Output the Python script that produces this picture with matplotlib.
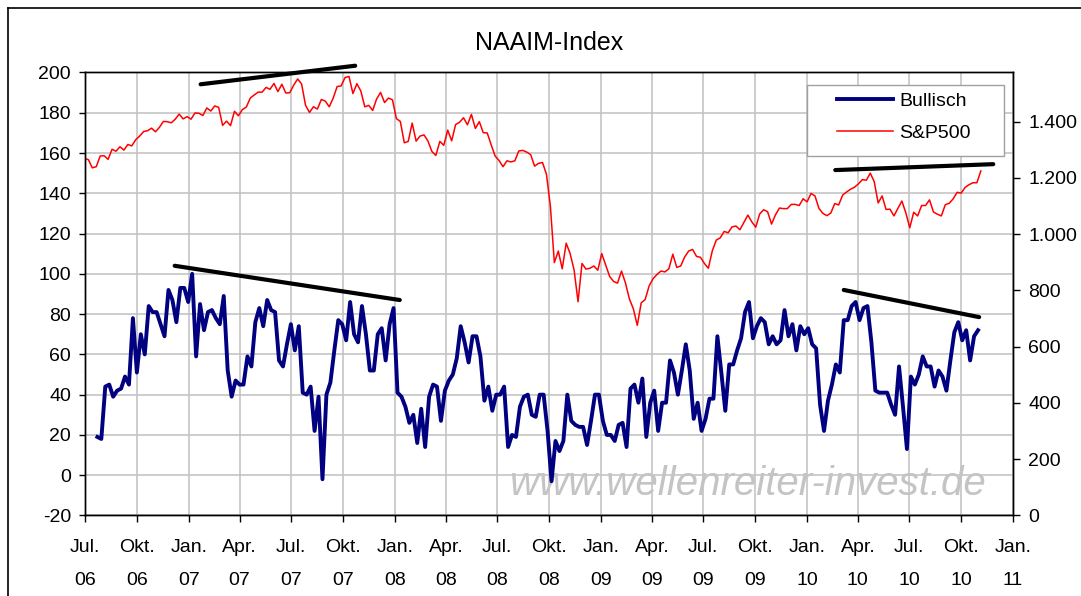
#!/usr/bin/env python3
"""NAAIM exposure index vs. S&P 500, Jul 2006 - Nov 2010."""
import pandas as pd
import matplotlib
matplotlib.use("Agg")
import matplotlib.pyplot as plt
from matplotlib.lines import Line2D
from matplotlib.patches import Rectangle

# NAAIM "Bullisch" weekly readings
NAAIM_START = "2006-07-23"
NAAIM = [
    19, 18, 44, 45, 39, 42, 43, 49, 45, 78,
    51, 70, 60, 84, 81, 81, 75, 69, 92, 87,
    76, 93, 93, 86, 100, 59, 85, 72, 81, 82,
    78, 75, 89, 52, 39, 47, 45, 45, 59, 54,
    76, 83, 74, 87, 82, 81, 57, 54, 65, 75,
    62, 74, 41, 40, 44, 22, 39, -2, 40, 46,
    62, 77, 75, 67, 86, 70, 66, 84, 70, 52,
    52, 70, 73, 57, 75, 83, 41, 39, 34, 26,
    30, 16, 33, 14, 39, 45, 44, 27, 42, 47,
    50, 58, 74, 66, 56, 69, 69, 59, 37, 44,
    32, 40, 40, 44, 14, 20, 19, 34, 39, 40,
    30, 29, 40, 40, 22, -3, 17, 12, 17, 40,
    27, 25, 24, 24, 15, 27, 40, 40, 27, 20,
    20, 17, 25, 26, 14, 43, 45, 36, 48, 19,
    36, 42, 22, 36, 36, 57, 51, 40, 52, 65,
    52, 28, 36, 22, 28, 38, 38, 69, 51, 32,
    55, 55, 62, 68, 81, 86, 68, 74, 78, 76,
    65, 69, 65, 67, 82, 69, 75, 62, 74, 70,
    73, 65, 63, 35, 22, 37, 45, 55, 51, 77,
    77, 84, 86, 77, 83, 84, 66, 42, 41, 41,
    41, 35, 30, 54, 34, 13, 49, 45, 50, 59,
    54, 54, 44, 52, 49, 42, 57, 71, 76, 67,
    72, 57, 69, 72,
]

# S&P 500 weekly closes
SPX_START = "2006-06-30"
SPX_2006 = [1270, 1265, 1236, 1240, 1278, 1279, 1266, 1302, 1295, 1311,
            1299, 1319, 1314, 1336, 1349, 1365, 1368, 1377, 1364, 1380,
            1401, 1400, 1396, 1409, 1427, 1410, 1418]
SPX_2007 = [1409, 1431, 1430, 1422, 1449, 1438, 1456, 1451, 1387, 1402,
            1386, 1437, 1421, 1443, 1452, 1484, 1495, 1505, 1505, 1522,
            1515, 1536, 1507, 1533, 1502, 1503, 1530, 1552, 1534, 1458,
            1433, 1453, 1445, 1479, 1473, 1453, 1484, 1525, 1527, 1557,
            1561, 1500, 1535, 1509, 1453, 1458, 1440, 1481, 1504, 1468,
            1484, 1478]
SPX_2008 = [1411, 1401, 1325, 1330, 1395, 1331, 1349, 1353, 1331, 1294,
            1280, 1330, 1316, 1370, 1332, 1390, 1398, 1414, 1389, 1426,
            1376, 1400, 1361, 1360, 1318, 1278, 1262, 1240, 1261, 1257,
            1261, 1296, 1298, 1292, 1283, 1242, 1252, 1255, 1213, 1099,
            899, 940, 877, 968, 931, 873, 760, 896, 876, 879,
            887, 872]
SPX_2009 = [931, 890, 850, 832, 826, 869, 827, 770, 735, 676,
            756, 768, 816, 842, 857, 869, 866, 877, 929, 882,
            887, 919, 940, 946, 921, 918, 896, 879, 941, 979,
            987, 1010, 1005, 1026, 1029, 1016, 1042, 1068, 1044, 1025,
            1072, 1087, 1080, 1036, 1069, 1093, 1091, 1091, 1106, 1106,
            1102, 1126, 1115]
SPX_2010 = [1145, 1136, 1092, 1074, 1066, 1075, 1109, 1104, 1139, 1150,
            1160, 1167, 1179, 1194, 1192, 1217, 1187, 1111, 1136, 1088,
            1089, 1065, 1092, 1118, 1076, 1023, 1078, 1065, 1102, 1102,
            1122, 1079, 1071, 1065, 1105, 1110, 1126, 1149, 1146, 1166,
            1176, 1183, 1183, 1225]

# hand-drawn trend lines: (start date, start value, end date, end value)
TREND_NAAIM = [("2006-12-07", 104, "2008-01-10", 87),
               ("2010-03-07", 92, "2010-11-02", 78.5)]
TREND_SPX = [("2007-01-22", 1533, "2007-10-23", 1599),
             ("2010-02-20", 1228, "2010-11-27", 1249)]

MONTH_DE = {1: "Jan.", 4: "Apr.", 7: "Jul.", 10: "Okt."}
LEFT_TICKS = list(range(-20, 201, 20))
RIGHT_TICKS = list(range(0, 1401, 200))

plt.rcParams["font.family"] = ["Liberation Sans", "DejaVu Sans"]
plt.rcParams["axes.unicode_minus"] = False

spx = SPX_2006 + SPX_2007 + SPX_2008 + SPX_2009 + SPX_2010
spx_dates = pd.date_range(SPX_START, periods=len(spx), freq="7D")
naaim_dates = pd.date_range(NAAIM_START, periods=len(NAAIM), freq="7D")

fig = plt.figure(figsize=(10.81, 5.96), dpi=100)
ax = fig.add_axes([0.0786, 0.1351, 0.8585, 0.7433])
ax2 = ax.twinx()

ax.plot(naaim_dates, NAAIM, color="#000080", lw=2.8, zorder=3,
        solid_joinstyle="round")
ax2.plot(spx_dates, spx, color="#ff0000", lw=1.1, zorder=2)

for d0, v0, d1, v1 in TREND_NAAIM:
    ax.plot([pd.Timestamp(d0), pd.Timestamp(d1)], [v0, v1], color="black",
            lw=3, solid_capstyle="round", zorder=4, clip_on=False)
for d0, v0, d1, v1 in TREND_SPX:
    ax2.plot([pd.Timestamp(d0), pd.Timestamp(d1)], [v0, v1], color="black",
             lw=3, solid_capstyle="round", zorder=4, clip_on=False)

ax.set_xlim(pd.Timestamp("2006-07-01"), pd.Timestamp("2011-01-01"))
ax.set_ylim(-20, 200)
ax2.set_ylim(0, 1575)

ticks = pd.date_range("2006-07-01", "2011-01-01", freq="QS")
ax.set_xticks(ticks)
ax.set_xticklabels([f"{MONTH_DE[t.month]}\n{t.strftime('%y')}" for t in ticks],
                   linespacing=2.2)
ax.set_yticks(LEFT_TICKS)
ax2.set_yticks(RIGHT_TICKS)
ax2.set_yticklabels([f"{v:,}".replace(",", ".") for v in RIGHT_TICKS])

ax.grid(True, color="#c0c0c0", lw=1.1)
ax.set_axisbelow(True)
for a in (ax, ax2):
    for s in a.spines.values():
        s.set_color("black")
        s.set_linewidth(1.0)
ax.tick_params(axis="both", direction="out", length=4, width=1,
               labelsize=14, color="black")
ax.tick_params(axis="x", length=5, pad=12)
ax.tick_params(axis="y", pad=6)
ax2.tick_params(axis="y", direction="out", length=5, width=1,
                labelsize=14, pad=6)

ax.set_title("NAAIM-Index", fontsize=18, pad=16)

ax.text(0.714, 0.07, "www.wellenreiter-invest.de", transform=ax.transAxes,
        fontsize=29, style="italic", color="#c4c4c4", ha="center",
        va="center", zorder=1)

# legend: white box plus frameless legend entries
ax2.add_patch(Rectangle((0.778, 0.8115), 0.212, 0.1605, transform=ax2.transAxes,
                        facecolor="white", edgecolor="#a0a0a0", lw=1.0,
                        zorder=5))
handles = [Line2D([], [], color="#000080", lw=2.8),
           Line2D([], [], color="#ff0000", lw=1.1)]
leg = ax2.legend(handles, ["Bullisch", "S&P500"], loc="upper left",
                 bbox_to_anchor=(0.8103, 0.955), borderaxespad=0, borderpad=0,
                 fontsize=14, handlelength=2.9, handletextpad=0.3,
                 labelspacing=0.75, frameon=False)
leg.set_zorder(6)

# chart-area frame (left and top edges visible)
fig.add_artist(Line2D([0.0074, 0.0074], [0, 0.9866], color="black", lw=1.2))
fig.add_artist(Line2D([0.0074, 1.0], [0.9866, 0.9866], color="black", lw=1.2))

fig.savefig("out.png", dpi=100)
